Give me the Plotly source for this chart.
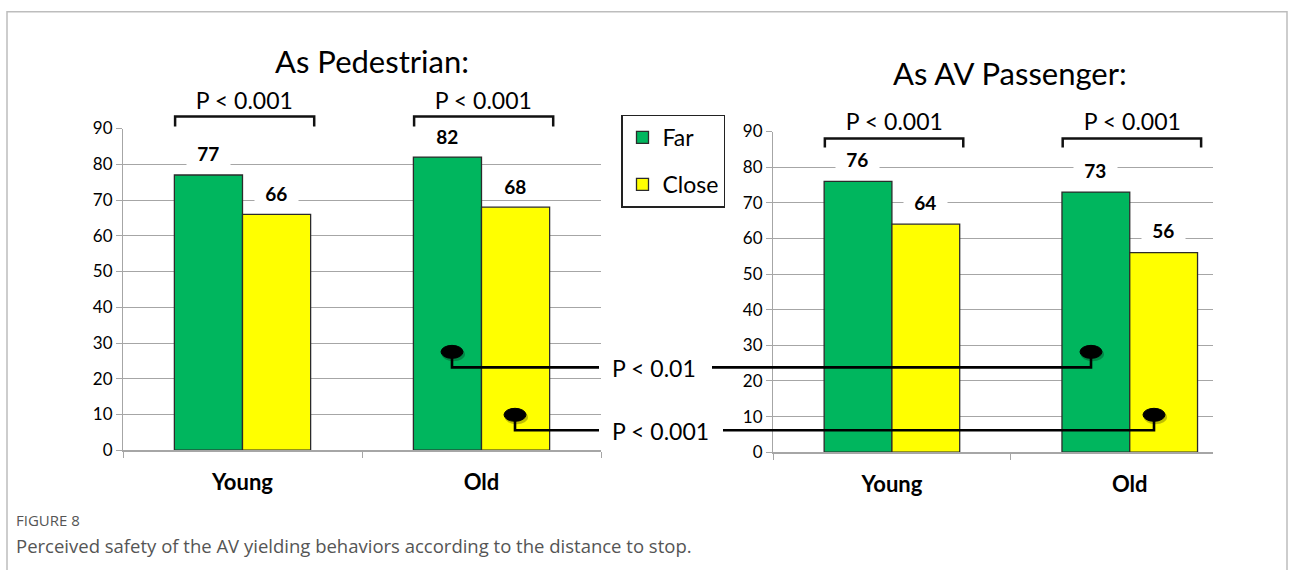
import plotly.graph_objects as go

# ---------------- data ----------------
categories = ["Young", "Old"]
series_names = ["Far", "Close"]
ped_far = [77, 82]
ped_close = [66, 68]
pas_far = [76, 73]
pas_close = [64, 56]
y_ticks = [0, 10, 20, 30, 40, 50, 60, 70, 80, 90]
bracket_p = ["P < 0.001", "P < 0.001"]
pas_bracket_p = ["P < 0.001", "P < 0.001"]
cross_p = ["P < 0.01", "P < 0.001"]
titles = ["As Pedestrian:", "As AV Passenger:"]
fig_label = "FIGURE 8"
caption = "Perceived safety of the AV yielding behaviors according to the distance to stop."

# ---------------- styling ----------------
W, H = 1292, 580
A_OFF, B_SC = 10.4, 0.9645  # observed vertical mapping of the capture
GREEN = "#00B65E"
YELLOW = "#FFFF00"
GRID = "#A6A6A6"
FONT = "Lato"


def fx(p):
    return p / W


def fy(p):
    return 1 - ((p - A_OFF) / B_SC) / H


fig = go.Figure()

colors = [GREEN, YELLOW]
for i, (vals, name) in enumerate(zip([ped_far, ped_close], series_names)):
    fig.add_trace(go.Bar(x=categories, y=vals, name=name, marker=dict(color=colors[i], line=dict(color="#2b2b2b", width=1.3)),
                         xaxis="x", yaxis="y", legendgroup=name, showlegend=True))
for i, (vals, name) in enumerate(zip([pas_far, pas_close], series_names)):
    fig.add_trace(go.Bar(x=categories, y=vals, name=name, marker=dict(color=colors[i], line=dict(color="#2b2b2b", width=1.3)),
                         xaxis="x2", yaxis="y2", legendgroup=name, showlegend=False))

yax = dict(range=[0, 90], tickvals=y_ticks, showgrid=True, gridcolor=GRID, gridwidth=1,
           showline=True, linecolor=GRID, linewidth=1, ticks="outside", ticklen=6, tickcolor=GRID,
           tickfont=dict(family=FONT, size=17, color="#000"), zeroline=False, fixedrange=True)
xax = dict(type="category", showline=True, linecolor=GRID, linewidth=1.5, ticks="outside", tickson="boundaries",
           ticklen=6, tickcolor=GRID, showgrid=False,
           tickfont=dict(family=FONT, size=22, color="#000", weight="bold"), ticklabelstandoff=12)

fig.update_layout(
    width=W, height=H, autosize=False,
    margin=dict(l=0, r=0, t=0, b=0, pad=0),
    paper_bgcolor="white", plot_bgcolor="rgba(0,0,0,0)",
    barmode="group", bargap=0.43, bargroupgap=0,
    xaxis=dict(domain=[fx(123), fx(601)], range=[-0.5, 1.5], anchor="y", **xax),
    yaxis=dict(domain=[fy(450), fy(128)], anchor="x", **yax),
    xaxis2=dict(domain=[fx(773), fx(1213)], range=[-0.5, 1.35], anchor="y2", **xax),
    yaxis2=dict(domain=[fy(452), fy(131)], anchor="x2", **yax),
    legend=dict(x=fx(621), y=fy(114), xanchor="left", yanchor="top", bordercolor="#222", borderwidth=1.5,
                bgcolor="white", font=dict(family=FONT, size=23, color="#000"), tracegroupgap=14,
                itemwidth=30),
    showlegend=True,
)

ann = []
shapes = []

# data labels
for xref, yref, fars, closes, ysh in [("x", "y", ped_far, ped_close, 21), ("x2", "y2", pas_far, pas_close, 22)]:
    for c, v in zip(categories, fars):
        ann.append(dict(x=c, y=v, xref=xref, yref=yref, text=f"&nbsp;&nbsp;{v}&nbsp;&nbsp;", showarrow=False,
                        xshift=-34, yshift=ysh, xanchor="center", yanchor="middle",
                        font=dict(family=FONT, size=19, color="#000", weight="bold"), bgcolor="white", borderpad=1))
    for c, v in zip(categories, closes):
        ann.append(dict(x=c, y=v, xref=xref, yref=yref, text=f"&nbsp;&nbsp;{v}&nbsp;&nbsp;", showarrow=False,
                        xshift=34, yshift=ysh, xanchor="center", yanchor="middle",
                        font=dict(family=FONT, size=19, color="#000", weight="bold"), bgcolor="white", borderpad=1))


# brackets
def bracket(xref, idx, top_px, bot_px, text_px, text, bg):
    x0, x1 = idx - 0.282, idx + 0.3
    shapes.append(dict(type="path", xref=xref, yref="paper",
                       path=f"M {x0},{fy(bot_px)} L {x0},{fy(top_px)} L {x1},{fy(top_px)} L {x1},{fy(bot_px)}",
                       line=dict(color="#111", width=2.5), layer="above"))
    ann.append(dict(x=idx + 0.01, y=fy(text_px), xref=xref, yref="paper", text=f"&nbsp;&nbsp;{text}&nbsp;&nbsp;",
                    showarrow=False, xanchor="center", yanchor="middle",
                    font=dict(family=FONT, size=23, color="#000"), bgcolor=bg, borderpad=1))


for i, t in enumerate(bracket_p):
    bracket("x", i, 116, 126, 99, t, "rgba(0,0,0,0)")
for i, t in enumerate(pas_bracket_p):
    bracket("x2", i, 138, 147, 120, t, "white")

# titles
ann.append(dict(x=fx(372), y=fy(60), xref="paper", yref="paper", text=titles[0], showarrow=False,
                xanchor="center", yanchor="middle", font=dict(family=FONT, size=31, color="#000")))
ann.append(dict(x=fx(1010), y=fy(72), xref="paper", yref="paper", text=titles[1], showarrow=False,
                xanchor="center", yanchor="middle", font=dict(family=FONT, size=31, color="#000")))

# cross-panel comparisons
conns = [
    dict(l_oval=(452, 352), r_oval=(1091, 352), line_y=367, text_x=654, text=cross_p[0], gap=(599, 712)),
    dict(l_oval=(515, 415), r_oval=(1154, 415), line_y=430, text_x=660, text=cross_p[1], gap=(599, 723)),
]
for c in conns:
    ly = c["line_y"]
    lx, loy = c["l_oval"]
    rx, roy = c["r_oval"]
    g0, g1 = c["gap"]
    shapes.append(dict(type="path", xref="paper", yref="paper",
                       path=f"M {fx(lx)},{fy(loy)} L {fx(lx)},{fy(ly)} L {fx(g0)},{fy(ly)}",
                       line=dict(color="#000", width=2.6), layer="above"))
    shapes.append(dict(type="path", xref="paper", yref="paper",
                       path=f"M {fx(g1)},{fy(ly)} L {fx(rx)},{fy(ly)} L {fx(rx)},{fy(roy)}",
                       line=dict(color="#000", width=2.6), layer="above"))
    for ox, oy in [(lx, loy), (rx, roy)]:
        shapes.append(dict(type="circle", xref="paper", yref="paper",
                           x0=fx(ox - 10), x1=fx(ox + 13), y0=fy(oy + 9), y1=fy(oy - 5),
                           fillcolor="rgba(0,0,0,0.25)", line=dict(width=0), layer="above"))
        shapes.append(dict(type="circle", xref="paper", yref="paper",
                           x0=fx(ox - 11), x1=fx(ox + 11), y0=fy(oy + 6), y1=fy(oy - 7),
                           fillcolor="#000", line=dict(color="#000", width=1), layer="above"))
    ann.append(dict(x=fx(c["text_x"]), y=fy(ly + 1), xref="paper", yref="paper", text=c["text"], showarrow=False,
                    xanchor="center", yanchor="middle", font=dict(family=FONT, size=23, color="#000")))

# outer frame (left, top, right sides; bottom is below the visible area)
frame_top = 1 - 0.8 / H
shapes.append(dict(type="path", xref="paper", yref="paper",
                   path=f"M {fx(7)},0 L {fx(7)},{frame_top} L {fx(1287)},{frame_top} L {fx(1287)},0",
                   line=dict(color="#BDBDBD", width=1.5), layer="below"))

# caption
ann.append(dict(x=fx(14), y=fy(520), xref="paper", yref="paper", xanchor="left", yanchor="middle",
                text=fig_label, showarrow=False, font=dict(family="Open Sans", size=15, color="#555")))
ann.append(dict(x=fx(14), y=fy(545), xref="paper", yref="paper", xanchor="left", yanchor="middle",
                text=caption, showarrow=False, font=dict(family="Open Sans", size=18.5, color="#555")))

fig.update_layout(annotations=ann, shapes=shapes)
fig.write_html(
    "out.html",
    config={"displayModeBar": False, "responsive": False},
    post_script="document.body.style.margin='0';document.body.style.padding='0';",
)
